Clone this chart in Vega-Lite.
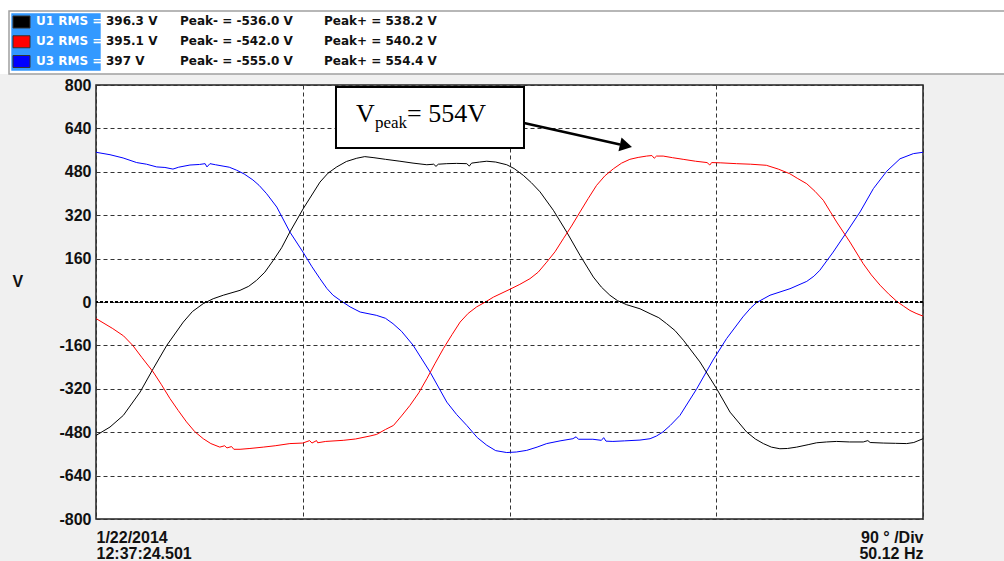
{
"$schema": "https://vega.github.io/schema/vega-lite/v6.json",
"background": "#f0f0f0",
"padding": {"left": 0, "top": 0, "right": 0, "bottom": 0},
"autosize": {"type": "pad"},
"columns": 1,
"spacing": 1,
"datasets": {
"h": [
{"p":"U1","n":"U1 RMS =","r":"396.3 V","pm":"Peak- = -536.0 V","pp":"Peak+ = 538.2 V"},
{"p":"U2","n":"U2 RMS =","r":"395.1 V","pm":"Peak- = -542.0 V","pp":"Peak+ = 540.2 V"},
{"p":"U3","n":"U3 RMS =","r":"397 V","pm":"Peak- = -555.0 V","pp":"Peak+ = 554.4 V"}
],
"w": [
{"p":"U3","d":0,"v":552},{"p":"U3","d":6.1,"v":543},{"p":"U3","d":11.8,"v":531},{"p":"U3","d":17.7,"v":514},{"p":"U3","d":22,"v":508},{"p":"U3","d":26.4,"v":498},{"p":"U3","d":30,"v":496},{"p":"U3","d":33.5,"v":490},{"p":"U3","d":36,"v":497},{"p":"U3","d":40.9,"v":505},{"p":"U3","d":45,"v":507},{"p":"U3","d":47.5,"v":510},{"p":"U3","d":48.3,"v":498},{"p":"U3","d":49.6,"v":510},{"p":"U3","d":52,"v":506},{"p":"U3","d":55.3,"v":501},{"p":"U3","d":58,"v":497},{"p":"U3","d":61.2,"v":486},{"p":"U3","d":64.5,"v":472},{"p":"U3","d":68.3,"v":450},{"p":"U3","d":71,"v":430},{"p":"U3","d":74.3,"v":399},{"p":"U3","d":78.7,"v":350},{"p":"U3","d":84.4,"v":258},{"p":"U3","d":90.1,"v":184},{"p":"U3","d":94,"v":130},{"p":"U3","d":97.5,"v":86},{"p":"U3","d":100.5,"v":50},{"p":"U3","d":103.2,"v":25},{"p":"U3","d":106.5,"v":5},{"p":"U3","d":110.6,"v":-18},{"p":"U3","d":115,"v":-37},{"p":"U3","d":122,"v":-49},{"p":"U3","d":126,"v":-60},{"p":"U3","d":129.3,"v":-80},{"p":"U3","d":133,"v":-108},{"p":"U3","d":138,"v":-159},{"p":"U3","d":145.4,"v":-258},{"p":"U3","d":152.7,"v":-369},{"p":"U3","d":157,"v":-415},{"p":"U3","d":161.4,"v":-455},{"p":"U3","d":166,"v":-500},{"p":"U3","d":170.1,"v":-528},{"p":"U3","d":174,"v":-548},{"p":"U3","d":178.8,"v":-555},{"p":"U3","d":183,"v":-553},{"p":"U3","d":187.5,"v":-547},{"p":"U3","d":192,"v":-535},{"p":"U3","d":196.2,"v":-522},{"p":"U3","d":202,"v":-512},{"p":"U3","d":207.6,"v":-504},{"p":"U3","d":209,"v":-497},{"p":"U3","d":210,"v":-506},{"p":"U3","d":216.3,"v":-506},{"p":"U3","d":220,"v":-510},{"p":"U3","d":221,"v":-500},{"p":"U3","d":222,"v":-513},{"p":"U3","d":225,"v":-514},{"p":"U3","d":230,"v":-512},{"p":"U3","d":236.8,"v":-509},{"p":"U3","d":241.2,"v":-504},{"p":"U3","d":244,"v":-494},{"p":"U3","d":246.8,"v":-479},{"p":"U3","d":250,"v":-455},{"p":"U3","d":254.2,"v":-418},{"p":"U3","d":261.5,"v":-320},{"p":"U3","d":268.6,"v":-214},{"p":"U3","d":274.5,"v":-135},{"p":"U3","d":281.6,"v":-55},{"p":"U3","d":285,"v":-22},{"p":"U3","d":287.6,"v":-2},{"p":"U3","d":293.4,"v":25},{"p":"U3","d":302.1,"v":49},{"p":"U3","d":309.4,"v":76},{"p":"U3","d":312.5,"v":95},{"p":"U3","d":315.1,"v":117},{"p":"U3","d":320.9,"v":184},{"p":"U3","d":326.8,"v":258},{"p":"U3","d":332.6,"v":332},{"p":"U3","d":338.4,"v":418},{"p":"U3","d":344.2,"v":482},{"p":"U3","d":350,"v":528},{"p":"U3","d":355.8,"v":547},{"p":"U3","d":360,"v":552},
{"p":"U1","d":0,"v":-492},{"p":"U1","d":6.1,"v":-461},{"p":"U1","d":11.9,"v":-418},{"p":"U1","d":19.2,"v":-332},{"p":"U1","d":24.9,"v":-246},{"p":"U1","d":30.8,"v":-160},{"p":"U1","d":38,"v":-74},{"p":"U1","d":42,"v":-35},{"p":"U1","d":46.7,"v":-6},{"p":"U1","d":51,"v":12},{"p":"U1","d":55.4,"v":25},{"p":"U1","d":62.7,"v":43},{"p":"U1","d":66.5,"v":58},{"p":"U1","d":69.9,"v":80},{"p":"U1","d":73.5,"v":110},{"p":"U1","d":77.2,"v":154},{"p":"U1","d":80.8,"v":200},{"p":"U1","d":84.4,"v":258},{"p":"U1","d":90.2,"v":344},{"p":"U1","d":97.5,"v":442},{"p":"U1","d":101,"v":475},{"p":"U1","d":104.8,"v":498},{"p":"U1","d":109,"v":518},{"p":"U1","d":113.5,"v":530},{"p":"U1","d":117,"v":536},{"p":"U1","d":121,"v":532},{"p":"U1","d":126,"v":526},{"p":"U1","d":132.3,"v":519},{"p":"U1","d":138,"v":512},{"p":"U1","d":144,"v":506},{"p":"U1","d":147,"v":508},{"p":"U1","d":148,"v":500},{"p":"U1","d":149,"v":508},{"p":"U1","d":152.7,"v":510},{"p":"U1","d":157,"v":511},{"p":"U1","d":161.4,"v":510},{"p":"U1","d":162.5,"v":501},{"p":"U1","d":163.5,"v":512},{"p":"U1","d":167,"v":516},{"p":"U1","d":170.1,"v":519},{"p":"U1","d":174,"v":516},{"p":"U1","d":178.8,"v":506},{"p":"U1","d":182,"v":492},{"p":"U1","d":186,"v":467},{"p":"U1","d":189.5,"v":440},{"p":"U1","d":193.3,"v":406},{"p":"U1","d":199.1,"v":338},{"p":"U1","d":204.9,"v":258},{"p":"U1","d":210.7,"v":172},{"p":"U1","d":216.5,"v":92},{"p":"U1","d":220,"v":55},{"p":"U1","d":223.7,"v":25},{"p":"U1","d":227,"v":5},{"p":"U1","d":231,"v":-10},{"p":"U1","d":236.8,"v":-25},{"p":"U1","d":241.2,"v":-43},{"p":"U1","d":245,"v":-58},{"p":"U1","d":248.4,"v":-80},{"p":"U1","d":252,"v":-105},{"p":"U1","d":255.7,"v":-141},{"p":"U1","d":262.9,"v":-221},{"p":"U1","d":270.2,"v":-320},{"p":"U1","d":276,"v":-406},{"p":"U1","d":283.2,"v":-479},{"p":"U1","d":287,"v":-505},{"p":"U1","d":290.5,"v":-522},{"p":"U1","d":294,"v":-535},{"p":"U1","d":297.7,"v":-541},{"p":"U1","d":301,"v":-540},{"p":"U1","d":305,"v":-535},{"p":"U1","d":310,"v":-526},{"p":"U1","d":313.7,"v":-519},{"p":"U1","d":318,"v":-516},{"p":"U1","d":322.4,"v":-514},{"p":"U1","d":328,"v":-516},{"p":"U1","d":334,"v":-516},{"p":"U1","d":336,"v":-511},{"p":"U1","d":337,"v":-518},{"p":"U1","d":342.7,"v":-520},{"p":"U1","d":348,"v":-521},{"p":"U1","d":352.9,"v":-522},{"p":"U1","d":356,"v":-518},{"p":"U1","d":360,"v":-504},
{"p":"U2","d":0,"v":-61},{"p":"U2","d":7.3,"v":-98},{"p":"U2","d":12,"v":-125},{"p":"U2","d":16,"v":-160},{"p":"U2","d":20,"v":-205},{"p":"U2","d":24.9,"v":-258},{"p":"U2","d":28.5,"v":-305},{"p":"U2","d":32.2,"v":-356},{"p":"U2","d":35.8,"v":-400},{"p":"U2","d":39.4,"v":-442},{"p":"U2","d":43,"v":-478},{"p":"U2","d":46.7,"v":-504},{"p":"U2","d":50,"v":-522},{"p":"U2","d":53.9,"v":-535},{"p":"U2","d":56,"v":-530},{"p":"U2","d":57,"v":-538},{"p":"U2","d":59,"v":-533},{"p":"U2","d":60,"v":-543},{"p":"U2","d":62.7,"v":-543},{"p":"U2","d":67,"v":-540},{"p":"U2","d":72.8,"v":-535},{"p":"U2","d":78,"v":-530},{"p":"U2","d":84.4,"v":-522},{"p":"U2","d":90,"v":-520},{"p":"U2","d":93,"v":-511},{"p":"U2","d":94,"v":-520},{"p":"U2","d":96,"v":-511},{"p":"U2","d":96.5,"v":-519},{"p":"U2","d":100,"v":-514},{"p":"U2","d":107.6,"v":-510},{"p":"U2","d":113,"v":-505},{"p":"U2","d":119.3,"v":-494},{"p":"U2","d":122.2,"v":-488},{"p":"U2","d":126,"v":-470},{"p":"U2","d":129.5,"v":-455},{"p":"U2","d":133,"v":-420},{"p":"U2","d":136.7,"v":-381},{"p":"U2","d":140.5,"v":-335},{"p":"U2","d":144,"v":-283},{"p":"U2","d":147.5,"v":-228},{"p":"U2","d":151.2,"v":-172},{"p":"U2","d":155,"v":-120},{"p":"U2","d":158.5,"v":-74},{"p":"U2","d":162,"v":-42},{"p":"U2","d":165.7,"v":-18},{"p":"U2","d":169.5,"v":0},{"p":"U2","d":173,"v":18},{"p":"U2","d":180.2,"v":47},{"p":"U2","d":184.5,"v":65},{"p":"U2","d":188.9,"v":86},{"p":"U2","d":192.5,"v":110},{"p":"U2","d":196.2,"v":147},{"p":"U2","d":199.8,"v":185},{"p":"U2","d":203.4,"v":233},{"p":"U2","d":207,"v":280},{"p":"U2","d":210.7,"v":332},{"p":"U2","d":214.3,"v":382},{"p":"U2","d":217.9,"v":430},{"p":"U2","d":221.5,"v":465},{"p":"U2","d":225.2,"v":491},{"p":"U2","d":228.8,"v":512},{"p":"U2","d":232.4,"v":526},{"p":"U2","d":236,"v":533},{"p":"U2","d":239.7,"v":538},{"p":"U2","d":242,"v":540},{"p":"U2","d":243,"v":530},{"p":"U2","d":244,"v":538},{"p":"U2","d":246.9,"v":538},{"p":"U2","d":251,"v":532},{"p":"U2","d":255.6,"v":526},{"p":"U2","d":261,"v":519},{"p":"U2","d":266,"v":514},{"p":"U2","d":267.2,"v":505},{"p":"U2","d":268,"v":514},{"p":"U2","d":272,"v":513},{"p":"U2","d":278.8,"v":510},{"p":"U2","d":285,"v":508},{"p":"U2","d":291.8,"v":504},{"p":"U2","d":297,"v":490},{"p":"U2","d":302,"v":473},{"p":"U2","d":305.5,"v":455},{"p":"U2","d":309.4,"v":436},{"p":"U2","d":313,"v":408},{"p":"U2","d":316.6,"v":375},{"p":"U2","d":319.5,"v":335},{"p":"U2","d":322.4,"v":295},{"p":"U2","d":328.2,"v":221},{"p":"U2","d":334,"v":141},{"p":"U2","d":337.5,"v":100},{"p":"U2","d":341.3,"v":62},{"p":"U2","d":345,"v":30},{"p":"U2","d":348.5,"v":3},{"p":"U2","d":351.5,"v":-15},{"p":"U2","d":354.3,"v":-31},{"p":"U2","d":357,"v":-42},{"p":"U2","d":360,"v":-52}
]
},
"concat": [
{
"width": 908, "height": 63,
"view": {"fill": null, "stroke": null},
"data": {"name": "h"},
"layer": [
{"data": {"values": [{}]},
 "mark": {"type": "rect", "fill": "white", "xOffset": -36, "x2Offset": 680, "yOffset": -21, "y2Offset": 13.5},
 "encoding": {
  "x": {"datum": "name", "type": "nominal", "scale": {"type": "point", "domain": ["name","val","pm","gap","pp"], "range": [-60, 228], "padding": 0}, "axis": null},
  "x2": {"datum": "pp"},
  "y": {"datum": "U1", "type": "nominal", "scale": {"type": "point", "domain": ["U1","U2","U3"], "range": [10, 49.5], "padding": 0}, "axis": null},
  "y2": {"datum": "U3"}
 }},
{"data": {"values": [{}]},
 "mark": {"type": "rect", "fill": "white", "stroke": "#a0a0a0", "strokeWidth": 1.5, "xOffset": -27, "x2Offset": 682, "yOffset": -10, "y2Offset": 13.5},
 "encoding": {
  "x": {"datum": "name", "type": "nominal"},
  "x2": {"datum": "pp"},
  "y": {"datum": "U1", "type": "nominal"},
  "y2": {"datum": "U3"}
 }},
{"data": {"values": [{}]},
 "mark": {"type": "rect", "fill": "#3399ff", "xOffset": -24.7, "x2Offset": 64.7, "yOffset": -7.7, "y2Offset": 10.2},
 "encoding": {
  "x": {"datum": "name", "type": "nominal"},
  "x2": {"datum": "name"},
  "y": {"datum": "U1", "type": "nominal"},
  "y2": {"datum": "U3"}
 }},
{"mark": {"type": "rect", "stroke": "#333", "strokeWidth": 1, "xOffset": -23, "x2Offset": -6, "yOffset": -5, "y2Offset": 7},
 "encoding": {
  "x": {"datum": "name", "type": "nominal"},
  "x2": {"datum": "name"},
  "y": {"field": "p", "type": "nominal"},
  "y2": {"field": "p"},
  "color": {"field": "p", "type": "nominal", "scale": {"domain": ["U1","U2","U3"], "range": ["#000000","#ff0000","#0000ff"]}, "legend": null}
 }},
{"mark": {"type": "text", "align": "left", "baseline": "middle", "font": "DejaVu Sans", "fontWeight": "bold", "fontSize": 12, "fill": "white"},
 "encoding": {"x": {"datum": "name", "type": "nominal"}, "y": {"field": "p", "type": "nominal"}, "text": {"field": "n"}}},
{"mark": {"type": "text", "align": "left", "baseline": "middle", "font": "DejaVu Sans", "fontWeight": "bold", "fontSize": 12, "fill": "#111", "dx": -2},
 "encoding": {"x": {"datum": "val", "type": "nominal"}, "y": {"field": "p", "type": "nominal"}, "text": {"field": "r"}}},
{"mark": {"type": "text", "align": "left", "baseline": "middle", "font": "DejaVu Sans", "fontWeight": "bold", "fontSize": 12, "fill": "#111"},
 "encoding": {"x": {"datum": "pm", "type": "nominal"}, "y": {"field": "p", "type": "nominal"}, "text": {"field": "pm"}}},
{"mark": {"type": "text", "align": "left", "baseline": "middle", "font": "DejaVu Sans", "fontWeight": "bold", "fontSize": 12, "fill": "#111"},
 "encoding": {"x": {"datum": "pp", "type": "nominal"}, "y": {"field": "p", "type": "nominal"}, "text": {"field": "pp"}}}
]
},
{
"width": 827, "height": 434,
"view": {"fill": "white", "stroke": "#222", "strokeWidth": 1.5},
"layer": [
{"data": {"name": "w"},
 "mark": {"type": "line", "strokeWidth": 1, "clip": true},
 "encoding": {
  "x": {"field": "d", "type": "quantitative",
   "scale": {"domain": [0, 360], "nice": false, "zero": false},
   "axis": {"values": [0, 90, 180, 270, 360], "title": null, "grid": true, "gridDash": [4, 3], "gridColor": "#333", "gridWidth": 1,
    "ticks": false, "domain": false,
    "labelExpr": "datum.value == 0 ? ['1/22/2014', '12:37:24.501'] : (datum.value == 360 ? ['90 ° /Div', '50.12 Hz'] : '')",
    "labelAlign": {"condition": {"test": "datum.value == 0", "value": "left"}, "value": "right"},
    "labelBaseline": "top", "labelPadding": 10, "labelLineHeight": 16,
    "labelFont": "Liberation Sans", "labelFontWeight": "bold", "labelFontSize": 16, "labelColor": "#111",
    "labelOverlap": false, "labelFlush": false, "labelBound": false}},
  "y": {"field": "v", "type": "quantitative",
   "scale": {"domain": [-800, 800], "nice": false},
   "axis": {"values": [-800, -640, -480, -320, -160, 0, 160, 320, 480, 640, 800],
    "labelExpr": "'' + datum.value",
    "title": "V", "titleAngle": 0, "titleX": -84, "titleY": 196, "titleAlign": "left", "titleBaseline": "middle",
    "titleFont": "Liberation Sans", "titleFontSize": 16, "titleFontWeight": "bold", "titleColor": "#111",
    "grid": true, "gridDash": [4, 3], "gridColor": "#333", "gridWidth": 1,
    "ticks": false, "domain": false, "labelPadding": 5,
    "labelFont": "Liberation Sans", "labelFontWeight": "bold", "labelFontSize": 16, "labelColor": "#111",
    "labelOverlap": false, "labelFlush": false}},
  "color": {"field": "p", "type": "nominal", "scale": {"domain": ["U1","U2","U3"], "range": ["#000000","#ff0000","#0000ff"]}, "legend": null}
 }},
{"data": {"values": [{}]},
 "mark": {"type": "rule", "strokeWidth": 2, "strokeDash": [3, 2], "color": "#000"},
 "encoding": {"y": {"datum": 0}}},
{"data": {"values": [{}]},
 "mark": {"type": "rect", "fill": "white", "stroke": "black", "strokeWidth": 2},
 "encoding": {"x": {"datum": 104.47}, "x2": {"datum": 186.31}, "y": {"datum": 792.6}, "y2": {"datum": 567.7}}},
{"data": {"values": [{}]},
 "mark": {"type": "text", "text": "V", "align": "left", "baseline": "alphabetic", "font": "Liberation Serif", "fontSize": 26, "color": "black"},
 "encoding": {"x": {"datum": 113.18}, "y": {"datum": 663.6}}},
{"data": {"values": [{}]},
 "mark": {"type": "text", "text": "peak", "align": "left", "baseline": "alphabetic", "font": "Liberation Serif", "fontSize": 17, "color": "black"},
 "encoding": {"x": {"datum": 121.45}, "y": {"datum": 641.5}}},
{"data": {"values": [{}]},
 "mark": {"type": "text", "text": "= 554V", "align": "left", "baseline": "alphabetic", "font": "Liberation Serif", "fontSize": 26, "color": "black"},
 "encoding": {"x": {"datum": 135.38}, "y": {"datum": 663.6}}},
{"data": {"values": [{}]},
 "mark": {"type": "rule", "strokeWidth": 2.5, "color": "black"},
 "encoding": {"x": {"datum": 186.31}, "y": {"datum": 659.9}, "x2": {"datum": 228.1}, "y2": {"datum": 580.6}}},
{"data": {"values": [{}]},
 "mark": {"type": "point", "shape": "triangle-right", "filled": true, "size": 200, "angle": 12.5, "color": "black", "opacity": 1},
 "encoding": {"x": {"datum": 230.7}, "y": {"datum": 576.2}}}
]
}
],
"config": {"axis": {"labelFont": "Liberation Sans"}}
}
